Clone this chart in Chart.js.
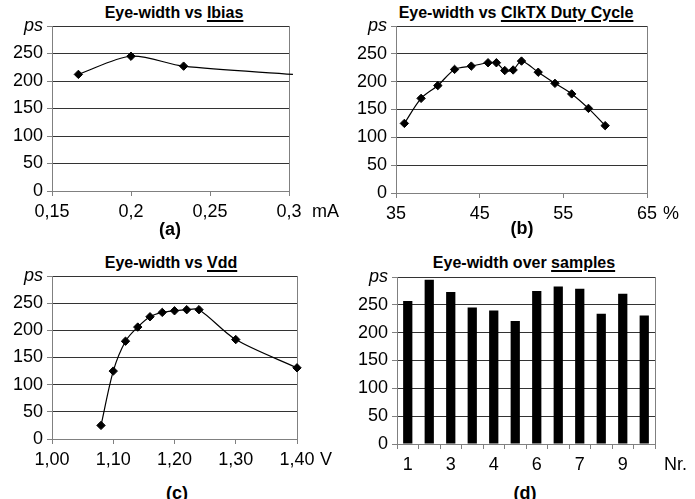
<!DOCTYPE html>
<html lang="en">
  <head>
    <meta charset="UTF-8" />
    <title>Eye-width measurements</title>
    <script src="https://cdn.jsdelivr.net/npm/chart.js"></script>
    <style>
      body {
        margin: 0;
        background: #ffffff;
        font-family: "Liberation Sans", Arial, sans-serif;
      }
      #page {
        position: relative;
        width: 695px;
        height: 499px;
        overflow: hidden;
      }
      canvas {
        position: absolute;
      }
      .title,
      .caption {
        position: absolute;
        transform: translate(-50%, -50%);
        white-space: nowrap;
        font-weight: bold;
        color: #000;
      }
      .title {
        font-size: 16px;
      }
      .title u {
        text-decoration-thickness: 2px;
        text-underline-offset: 2px;
      }
      .caption {
        font-size: 18px;
      }
    </style>
  </head>
  <body>
    <div id="page">
      <div class="title" style="left: 174px; top: 13px">Eye-width vs <u>Ibias</u></div>
      <div class="title" style="left: 516px; top: 13px">Eye-width vs <u>ClkTX Duty Cycle</u></div>
      <div class="title" style="left: 171px; top: 263px">Eye-width vs <u>Vdd</u></div>
      <div class="title" style="left: 524px; top: 263px">Eye-width over <u>samples</u></div>

      <canvas id="chartA" width="345" height="211" style="left: 0; top: 10px"></canvas>
      <canvas id="chartB" width="350" height="213" style="left: 345px; top: 10px"></canvas>
      <canvas id="chartC" width="345" height="209" style="left: 0; top: 260px"></canvas>
      <canvas id="chartD" width="350" height="213" style="left: 345px; top: 261px"></canvas>

      <div class="caption" style="left: 170px; top: 229px">(a)</div>
      <div class="caption" style="left: 522px; top: 228px">(b)</div>
      <div class="caption" style="left: 177px; top: 493px">(c)</div>
      <div class="caption" style="left: 525px; top: 493px">(d)</div>
    </div>

    <script>
      // (a) eye-width vs bias current (mA)
      const ibiasX = [0.1667, 0.2, 0.2333, 0.3025];
      const ibiasY = [212, 245, 227, 212];

      // (b) eye-width vs ClkTX duty cycle (%)
      const dutyX = [36, 38, 40, 42, 44, 46, 47, 48, 49, 50, 52, 54, 56, 58, 60];
      const dutyY = [125, 170, 193, 222, 228, 234, 234, 220, 221, 237, 217, 197, 178, 152, 121];

      // (c) eye-width vs Vdd (V)
      const vddX = [1.08, 1.1, 1.12, 1.14, 1.16, 1.18, 1.2, 1.22, 1.24, 1.3, 1.4];
      const vddY = [25, 125, 180, 206, 225, 233, 236, 238, 238, 183, 131];

      // (d) eye-width over samples
      const sampleLabels = ["1", "", "3", "", "4", "", "6", "", "7", "", "9", ""];
      const sampleY = [257, 295, 273, 245, 240, 221, 275, 283, 279, 234, 270, 231];

      const FONT = { family: "'Liberation Sans', Arial, sans-serif", size: 18 };
      const GRID = "#333333";
      const AXIS = "#808080";

      // draws the unit (mA, %, V, Nr.) right of the last x tick label
      const unitLabel = {
        id: "unitLabel",
        afterDraw(chart, args, opts) {
          const { ctx, chartArea } = chart;
          ctx.save();
          ctx.font = FONT.size + "px " + FONT.family;
          ctx.fillStyle = "#000";
          ctx.textBaseline = "middle";
          ctx.fillText(opts.text, chartArea.right + opts.gap, chartArea.bottom + 21);
          ctx.restore();
        },
      };

      function yAxis(width) {
        return {
          min: 0,
          max: 300,
          afterFit: (s) => {
            s.width = width;
          },
          border: { color: AXIS },
          grid: { color: GRID, tickColor: AXIS, tickLength: 5 },
          ticks: {
            stepSize: 50,
            padding: 4,
            color: "#000",
            font: (c) =>
              c.tick && c.tick.value === 300 ? { ...FONT, style: "italic" } : FONT,
            callback: (v) => (v === 300 ? "ps" : v),
          },
        };
      }

      function xLinear(min, max, step, fmt) {
        return {
          type: "linear",
          min: min,
          max: max,
          afterFit: (s) => {
            s.height = 30;
          },
          border: { color: AXIS },
          grid: {
            color: (c) =>
              c.tick && c.index === c.scale.ticks.length - 1 ? AXIS : "transparent",
            tickColor: AXIS,
            tickLength: 5,
          },
          ticks: {
            stepSize: step,
            padding: 5,
            color: "#000",
            font: FONT,
            autoSkip: false,
            maxRotation: 0,
            callback: fmt,
          },
        };
      }

      function lineChart(id, xs, ys, xScale, g, hideLast) {
        return new Chart(document.getElementById(id), {
          type: "line",
          data: {
            datasets: [
              {
                data: xs.map((x, i) => ({ x: x, y: ys[i] })),
                borderColor: "#000",
                borderWidth: 1.2,
                tension: 0.3,
                fill: false,
                pointStyle: "rectRot",
                pointRadius: (c) => (hideLast && c.dataIndex === xs.length - 1 ? 0 : 4.2),
                pointBackgroundColor: "#000",
                pointBorderColor: "#000",
                pointBorderWidth: 1,
              },
            ],
          },
          options: {
            responsive: false,
            animation: false,
            clip: false,
            layout: { padding: { top: g.top, right: g.right, left: 0, bottom: 0 } },
            scales: { x: xScale, y: yAxis(g.yWidth) },
            plugins: {
              legend: { display: false },
              tooltip: { enabled: false },
              unitLabel: { text: g.unit, gap: g.gap },
            },
          },
          plugins: [unitLabel],
        });
      }

      lineChart(
        "chartA",
        ibiasX,
        ibiasY,
        xLinear(0.15, 0.3, 0.05, (v) => String(Math.round(v * 100) / 100).replace(".", ",")),
        { top: 16, right: 56, yWidth: 52, unit: "mA", gap: 23 },
        true
      );

      lineChart(
        "chartB",
        dutyX,
        dutyY,
        xLinear(35, 65, 10, (v) => v),
        { top: 16, right: 48, yWidth: 51, unit: "%", gap: 16 },
        false
      );

      lineChart(
        "chartC",
        vddX,
        vddY,
        xLinear(1.0, 1.4, 0.1, (v) => v.toFixed(2).replace(".", ",")),
        { top: 16, right: 48, yWidth: 52, unit: "V", gap: 23 },
        false
      );

      new Chart(document.getElementById("chartD"), {
        type: "bar",
        data: {
          labels: sampleLabels,
          datasets: [
            {
              data: sampleY,
              backgroundColor: "#000",
              barPercentage: 0.43,
              categoryPercentage: 1,
            },
          ],
        },
        options: {
          responsive: false,
          animation: false,
          layout: { padding: { top: 16, right: 40, left: 0, bottom: 0 } },
          scales: {
            x: {
              afterFit: (s) => {
                s.height = 30;
              },
              border: { color: AXIS },
              grid: {
                offset: true,
                color: (c) => (c.tick ? "transparent" : AXIS),
                tickColor: AXIS,
                tickLength: 5,
              },
              ticks: {
                padding: 5,
                color: "#000",
                font: FONT,
                autoSkip: false,
                maxRotation: 0,
              },
            },
            y: yAxis(52),
          },
          plugins: {
            legend: { display: false },
            tooltip: { enabled: false },
            unitLabel: { text: "Nr.", gap: 9 },
          },
        },
        plugins: [unitLabel],
      });
    </script>
  </body>
</html>
